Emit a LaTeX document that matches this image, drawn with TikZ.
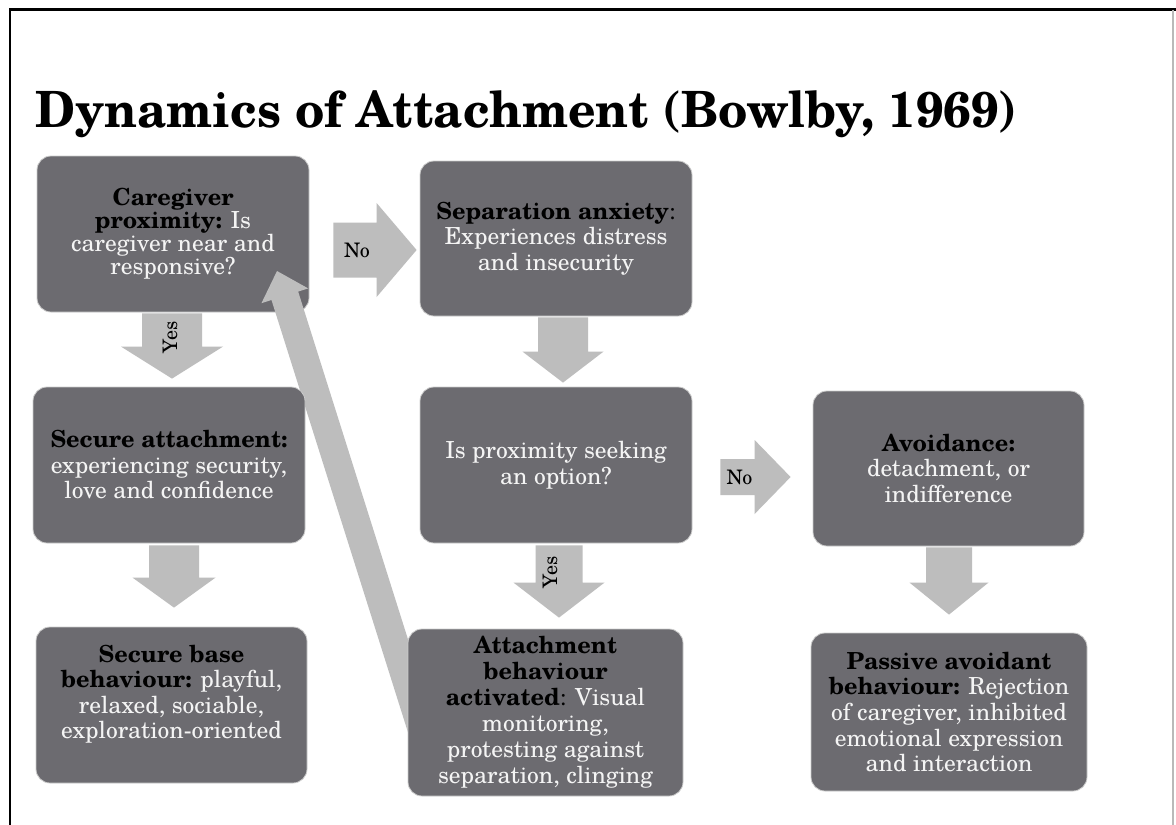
\documentclass[tikz,border=0pt]{standalone}
\usepackage{fontspec}
\setmainfont{texgyreschola}[Extension=.otf,UprightFont=*-regular,BoldFont=*-bold,ItalicFont=*-italic,BoldItalicFont=*-bolditalic]
\usetikzlibrary{calc}
\definecolor{boxfill}{HTML}{6C6B70}
\definecolor{arrowfill}{HTML}{BDBDBD}
\definecolor{boxtext}{HTML}{F4F4F4}
\pgfdeclarelayer{back}
\pgfdeclarelayer{mid}
\pgfsetlayers{back,mid,main}
\newcommand\hb[1]{\textcolor{black}{\bfseries #1}}
\newcommand\blockarrow[5]{%
  \coordinate (bahead) at ($(#2)!#5!(#1)$);
  \fill[arrowfill] ($(#1)!#3!90:(#2)$) -- ($(bahead)!#3!90:(#2)$) -- ($(bahead)!#4!90:(#2)$) -- (#2)
    -- ($(bahead)!#4!-90:(#2)$) -- ($(bahead)!#3!-90:(#2)$) -- ($(#1)!#3!-90:(#2)$) -- cycle;}
\begin{document}
\begin{tikzpicture}[x=1pt,y=-1pt,
  box/.style={rectangle, rounded corners=14pt, fill=boxfill, draw=white!60!gray, line width=0.8pt,
    minimum width=272pt, minimum height=156pt, inner sep=0pt, align=center, text=boxtext,
    font=\fontsize{23.5}{25.5}\selectfont},
  btext/.style={align=center, text=boxtext, inner sep=0pt, font=\fontsize{23.5}{25.5}\selectfont},
  albl/.style={inner sep=0pt, text=black, font=\fontsize{20}{22}\selectfont}]
\useasboundingbox (0,0) rectangle (1176,825);
\begin{pgfonlayer}{back}
  \fill[white] (0,0) rectangle (1176,825);
\end{pgfonlayer}
% frame
\draw[black, line width=2.5pt] (10,825) -- (10,9.5) -- (1176,9.5);
\draw[gray!55, line width=1.5pt] (1173,9.5) -- (1173,825);
% title
\node[anchor=base west, inner sep=0pt, font=\fontsize{50}{60}\selectfont\bfseries] (title) at (35,127)
  {\scalebox{0.96}[1]{Dynamics of Attachment (Bowlby, 1969)}};
% boxes
\begin{pgfonlayer}{back}
\node[box, font=\fontsize{23.5}{20.8}\selectfont] (b1) at (173,234)
  {\hb{Caregiver}\\ \hb{proximity:} Is\\ caregiver near and\\ responsive?};
\end{pgfonlayer}
\node[box, minimum height=155pt] (b2) at (556,238.5)
  {\hb{Separation anxiety}\textcolor{black}{:}\\ Experiences distress\\ and insecurity};
\node[box] (b3) at (169,465)
  {\hb{Secure attachment:}\\ experiencing security,\\ love and confidence};
\node[box] (b4) at (556,465)
  {Is proximity seeking\\ an option?};
\node[box, minimum width=271pt, minimum height=155pt] (b5) at (948.5,468.5)
  {\hb{Avoidance:}\\ detachment, or\\ indifference};
\node[box, minimum width=271pt] (b6) at (171.5,705) {};
\node[btext] (b6t) at ($(b6.center)+(0,-11)$)
  {\hb{Secure base}\\ \hb{behaviour:} playful,\\ relaxed, sociable,\\ exploration-oriented};
\node[box, minimum width=275pt, minimum height=167pt, font=\fontsize{23.5}{26}\selectfont] (b7) at (545.5,712.5)
  {\hb{Attachment}\\ \hb{behaviour}\\ \hb{activated}\textcolor{black}{:} Visual\\ monitoring,\\ protesting against\\ separation, clinging};
\node[box, minimum width=276pt, minimum height=158pt, font=\fontsize{23.5}{25.7}\selectfont] (b8) at (949,712)
  {\hb{Passive avoidant}\\ \hb{behaviour:} Rejection\\ of caregiver, inhibited\\ emotional expression\\ and interaction};
% arrow end points
\coordinate (aAs) at ($(b1.east)+(24,16)$);
\coordinate (aAe) at ($(b2.west)+(-3,11.5)$);
\coordinate (aBs) at ($(b1.south)+(-1,1)$);
\coordinate (aBe) at ($(b3.north)+(3,-8)$);
\coordinate (aCs) at ($(b2.south)+(7,1)$);
\coordinate (aCe) at ($(b4.north)+(7,-4)$);
\coordinate (aDs) at ($(b3.south)+(5,2)$);
\coordinate (aDe) at ($(b6.north)+(2.5,-19)$);
\coordinate (aEs) at ($(b4.south)+(3,2)$);
\coordinate (aEe) at ($(b7.north)+(13.5,-11)$);
\coordinate (aFs) at ($(b4.east)+(28,12)$);
\coordinate (aFe) at ($(b5.west)+(-22,8.5)$);
\coordinate (aGs) at ($(b5.south)+(0.5,1)$);
\coordinate (aGe) at ($(b8.north)+(0,-18)$);
\coordinate (aHs) at ($(b7.west)+(17.5,27.5)$);
\coordinate (aHe) at ($(b1.center)+(104,37)$);
% block arrows
\blockarrow{aAs}{aAe}{27.5pt}{47pt}{40pt}
\blockarrow{aBs}{aBe}{30pt}{51pt}{32pt}
\blockarrow{aCs}{aCe}{25pt}{40.5pt}{31pt}
\blockarrow{aDs}{aDe}{25pt}{41.5pt}{30pt}
\blockarrow{aEs}{aEe}{23.5pt}{45.5pt}{35pt}
\blockarrow{aFs}{aFe}{18pt}{37pt}{36pt}
\blockarrow{aGs}{aGe}{23pt}{39.5pt}{32pt}
\begin{pgfonlayer}{mid}
\blockarrow{aHs}{aHe}{14pt}{24.5pt}{26pt}
\end{pgfonlayer}
% arrow labels
\node[albl] (lA) at ($(aAs)+(23.5,0)$) {No};
\node[albl, rotate=90] (lB) at ($(aBs)+(-2,24)$) {Yes};
\node[albl, rotate=90] (lE) at ($(aEs)+(-9,27)$) {Yes};
\node[albl] (lF) at ($(aFs)+(19,0)$) {No};
\end{tikzpicture}
\end{document}
